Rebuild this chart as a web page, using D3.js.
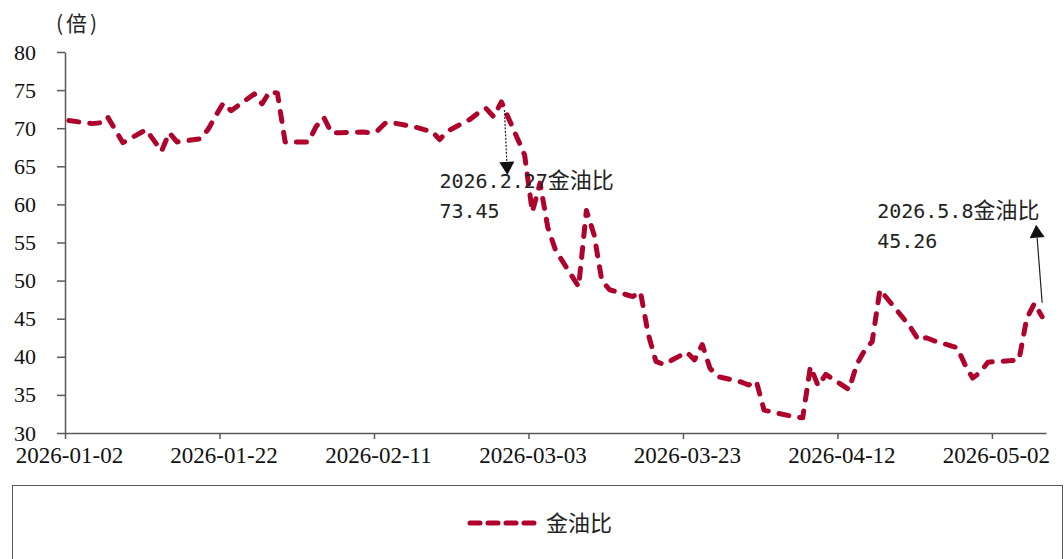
<!DOCTYPE html>
<html>
<head>
<meta charset="utf-8">
<script src="https://cdn.jsdelivr.net/npm/d3@7"></script>
<style>
  body { margin: 0; background: #fff; }
  svg { display: block; }
  .serif text { font-family: "Liberation Serif", "Times New Roman", serif; }
</style>
</head>
<body>
<svg id="chart" width="1064" height="559"></svg>
<script>
// 金油比 daily values (trading days)
const dates = [
  "2026-01-02","2026-01-05","2026-01-06","2026-01-07","2026-01-08","2026-01-09",
  "2026-01-12","2026-01-13","2026-01-14","2026-01-15","2026-01-16",
  "2026-01-19","2026-01-20","2026-01-21","2026-01-22","2026-01-23",
  "2026-01-26","2026-01-27","2026-01-28","2026-01-29","2026-01-30",
  "2026-02-02","2026-02-03","2026-02-04","2026-02-05","2026-02-06",
  "2026-02-09","2026-02-10","2026-02-11","2026-02-12","2026-02-13",
  "2026-02-16","2026-02-17","2026-02-18","2026-02-19","2026-02-20",
  "2026-02-23","2026-02-24","2026-02-25","2026-02-26","2026-02-27",
  "2026-03-02","2026-03-03","2026-03-04","2026-03-05","2026-03-06",
  "2026-03-09","2026-03-10","2026-03-11","2026-03-12","2026-03-13",
  "2026-03-16","2026-03-17","2026-03-18","2026-03-19","2026-03-20",
  "2026-03-23","2026-03-24","2026-03-25","2026-03-26","2026-03-27",
  "2026-03-30","2026-03-31","2026-04-01","2026-04-02",
  "2026-04-06","2026-04-07","2026-04-08","2026-04-09","2026-04-10",
  "2026-04-13","2026-04-14","2026-04-15","2026-04-16","2026-04-17",
  "2026-04-20","2026-04-21","2026-04-22","2026-04-23","2026-04-24",
  "2026-04-27","2026-04-28","2026-04-29","2026-04-30","2026-05-01",
  "2026-05-04","2026-05-05","2026-05-06","2026-05-07","2026-05-08"
];
const ratio = [
  71.0, 70.6, 70.7, 71.5, 69.8, 68.1,
  69.8, 68.4, 67.0, 69.4, 68.2,
  68.6, 69.8, 71.6, 73.3, 72.3,
  74.5, 73.2, 74.8, 74.6, 68.2,
  68.2, 70.2, 71.4, 69.4, 69.4,
  69.5, 69.4, 69.7, 70.7, 70.7,
  70.1, 69.8, 69.6, 68.5, 69.6,
  71.2, 72.0, 72.6, 71.5, 73.45,
  66.5, 59.0, 62.8, 57.0, 54.0,
  49.2, 59.2, 56.0, 50.0, 48.8,
  47.9, 48.5, 43.0, 39.4, 39.0,
  40.6, 39.6, 41.6, 38.5, 37.4,
  36.7, 36.3, 36.8, 33.0,
  32.1, 32.0, 38.7, 36.2, 37.7,
  35.7, 39.0, 40.8, 42.0, 48.8,
  45.1, 43.8, 42.2, 42.5, 42.1,
  41.2, 39.0, 37.2, 38.0, 39.3,
  39.5, 39.6, 45.0, 47.0, 45.26
];
const yTicks = [30, 35, 40, 45, 50, 55, 60, 65, 70, 75, 80];
const xTickLabels = ["2026-01-02","2026-01-22","2026-02-11","2026-03-03","2026-03-23","2026-04-12","2026-05-02"];
const seriesName = "金油比";
const unitLabel = "(倍)";
const notes = [
  { date: "2026-02-27", value: 73.45, title: "2026.2.27", sub: "73.45" },
  { date: "2026-05-08", value: 45.26, title: "2026.5.8", sub: "45.26" }
];

const RED = "#B0032C";
const AXIS = "#595959";
const parse = d3.utcParse("%Y-%m-%d");
const HALF_DAY = 12 * 3600 * 1000;

const svg = d3.select("#chart");
svg.append("rect").attr("width", 1064).attr("height", 559).attr("fill", "#fff");

const x = d3.scaleUtc()
  .domain([parse("2026-01-02"), parse("2026-05-09")])
  .range([65, 1046]);
const y = d3.scaleLinear().domain([30, 80]).range([433, 52]);

const data = dates.map((d, i) => ({ date: new Date(+parse(d) + HALF_DAY), value: ratio[i] }));

// y axis
const yAxis = svg.append("g")
  .attr("class", "serif")
  .attr("transform", "translate(65,0)")
  .call(d3.axisLeft(y).tickValues(yTicks).tickSize(8).tickSizeOuter(0).tickPadding(21));
yAxis.attr("font-family", null);
yAxis.select(".domain").attr("stroke", AXIS).attr("stroke-width", 1.5);
yAxis.selectAll(".tick line").attr("stroke", AXIS).attr("stroke-width", 1.5);
yAxis.selectAll("text")
  .style("font-family", "'Liberation Serif', serif")
  .attr("font-size", 22).attr("fill", "#111");

// x axis
const xAxis = svg.append("g")
  .attr("class", "serif")
  .attr("transform", "translate(0,433)")
  .call(d3.axisBottom(x).tickValues(xTickLabels.map(parse)).tickSize(6).tickSizeOuter(0)
    .tickFormat(d3.utcFormat("%Y-%m-%d")));
xAxis.attr("font-family", null);
xAxis.select(".domain").attr("stroke", AXIS).attr("stroke-width", 1.5);
xAxis.selectAll(".tick line").attr("stroke", AXIS).attr("stroke-width", 1.5);
xAxis.selectAll("text")
  .attr("y", 30).attr("dy", 0).attr("dx", 4)
  .style("font-family", "'Liberation Serif', serif")
  .attr("font-size", 23).attr("fill", "#111");

// unit
svg.append("text")
  .attr("x", 56).attr("y", 31)
  .style("font-family", "'Noto Sans CJK SC', sans-serif")
  .attr("font-size", 21).attr("letter-spacing", 3).attr("fill", "#222")
  .text(unitLabel);

// series line
const line = d3.line().x(d => x(d.date)).y(d => y(d.value));
svg.append("path")
  .datum(data)
  .attr("d", line)
  .attr("fill", "none")
  .attr("stroke", RED).attr("stroke-width", 5)
  .attr("stroke-dasharray", "10 11")
  .attr("stroke-linecap", "round").attr("stroke-linejoin", "round");

// annotations
function noteText(tx, ty, n) {
  const t = svg.append("text").attr("x", tx).attr("y", ty).attr("fill", "#222");
  t.append("tspan").style("font-family", "'DejaVu Sans Mono', monospace").attr("font-size", 20).text(n.title);
  t.append("tspan").style("font-family", "'Noto Sans CJK SC', sans-serif").attr("font-size", 22).text(seriesName);
  svg.append("text").attr("x", tx).attr("y", ty + 30).attr("fill", "#222")
    .style("font-family", "'DejaVu Sans Mono', monospace").attr("font-size", 20).text(n.sub);
}
function arrow(x1, y1, x2, y2, dashed) {
  const ang = Math.atan2(y2 - y1, x2 - x1);
  const len = 13, w = 7.5;
  const bx = x2 - len * Math.cos(ang), by = y2 - len * Math.sin(ang);
  svg.append("line")
    .attr("x1", x1).attr("y1", y1).attr("x2", bx).attr("y2", by)
    .attr("stroke", "#222").attr("stroke-width", 1.2)
    .attr("stroke-dasharray", dashed ? "2 1.5" : null);
  const px = -Math.sin(ang), py = Math.cos(ang);
  svg.append("path")
    .attr("d", `M${x2},${y2}L${bx + px * w},${by + py * w}L${bx - px * w},${by - py * w}Z`)
    .attr("fill", "#111");
}

const n1 = notes[0], p1x = x(new Date(+parse(n1.date) + HALF_DAY)), p1y = y(n1.value);
arrow(p1x + 3, p1y + 8, p1x + 6, p1y + 73, true);
noteText(p1x - 62, p1y + 86, n1);

const n2 = notes[1], p2x = x(new Date(+parse(n2.date) + HALF_DAY)), p2y = y(n2.value);
arrow(p2x, p2y - 14, p2x - 6, p2y - 92, false);
noteText(p2x - 165, p2y - 99, n2);

// legend
svg.append("rect")
  .attr("x", 12.5).attr("y", 485.5).attr("width", 1050).attr("height", 100)
  .attr("fill", "none").attr("stroke", AXIS).attr("stroke-width", 1);
svg.append("line")
  .attr("x1", 470).attr("x2", 536).attr("y1", 523).attr("y2", 523)
  .attr("stroke", RED).attr("stroke-width", 5)
  .attr("stroke-dasharray", "10 8").attr("stroke-linecap", "round");
svg.append("text")
  .attr("x", 546).attr("y", 531)
  .style("font-family", "'Noto Sans CJK SC', sans-serif")
  .attr("font-size", 22).attr("fill", "#222")
  .text(seriesName);
</script>
</body>
</html>
